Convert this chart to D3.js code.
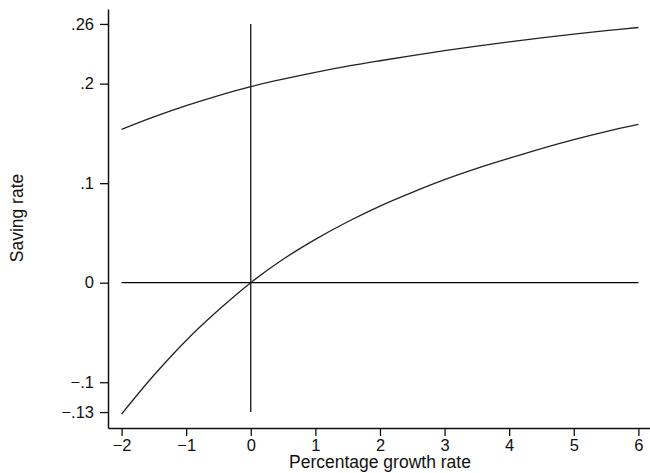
<!DOCTYPE html>
<html>
<head>
<meta charset="utf-8">
<script src="https://cdn.jsdelivr.net/npm/d3@7"></script>
<style>
  html, body { margin: 0; padding: 0; background: #fff; }
  svg { display: block; }
  text { font-family: "Liberation Sans", Arial, sans-serif; fill: #111; }
</style>
</head>
<body>
<svg id="chart" width="650" height="473"></svg>
<script>
// Data
const growth = [-2, -1.5, -1, -0.5, 0, 0.5, 1, 1.5, 2, 2.5, 3, 3.5, 4, 4.5, 5, 5.5, 6];
const upperSaving = [0.154, 0.1665, 0.1778, 0.188, 0.197, 0.2045, 0.2113, 0.2175, 0.223, 0.2282, 0.2331, 0.2377, 0.242, 0.246, 0.2497, 0.2532, 0.2564];
const lowerSaving = [-0.132, -0.093, -0.058, -0.0275, 0, 0.0235, 0.0435, 0.0612, 0.077, 0.0908, 0.1035, 0.1148, 0.125, 0.1348, 0.1438, 0.1518, 0.159];
const xTicks = [-2, -1, 0, 1, 2, 3, 4, 5, 6];
const xTickLabels = ["\u22122", "\u22121", "0", "1", "2", "3", "4", "5", "6"];
const yTicks = [-0.13, -0.1, 0, 0.1, 0.2, 0.26];
const yTickLabels = ["\u2212.13", "\u2212.1", "0", ".1", ".2", ".26"];
const refX = 0;          // vertical reference line at zero growth
const refY = 0;          // horizontal reference line at zero saving
const refYRange = [-0.13, 0.26];
const xLabel = "Percentage growth rate";
const yLabel = "Saving rate";

const svg = d3.select("#chart");
const x = d3.scaleLinear().domain([-2.21, 6.18]).range([108, 650]);
const y = d3.scaleLinear().domain([-0.146, 0.275]).range([428, 9]);

// Reference lines
svg.append("line")
  .attr("x1", x(refX)).attr("x2", x(refX))
  .attr("y1", y(refYRange[0])).attr("y2", y(refYRange[1]))
  .attr("stroke", "#000").attr("stroke-width", 1.2);
svg.append("line")
  .attr("x1", x(growth[0])).attr("x2", x(growth[growth.length - 1]))
  .attr("y1", y(refY)).attr("y2", y(refY))
  .attr("stroke", "#000").attr("stroke-width", 1.2);

// Curves
const line = d3.line().x((d, i) => x(growth[i])).y(d => y(d)).curve(d3.curveCatmullRom);
[upperSaving, lowerSaving].forEach(s => {
  svg.append("path").datum(s).attr("d", line)
    .attr("fill", "none").attr("stroke", "#222").attr("stroke-width", 1.3);
});

// Axes
const xAxis = d3.axisBottom(x).tickValues(xTicks)
  .tickFormat((d, i) => xTickLabels[i]).tickSize(8).tickSizeOuter(0).tickPadding(3);
const gx = svg.append("g").attr("transform", `translate(0,${y.range()[0]})`).call(xAxis);
const yAxis = d3.axisLeft(y).tickValues(yTicks)
  .tickFormat((d, i) => yTickLabels[i]).tickSize(8).tickSizeOuter(0).tickPadding(6);
const gy = svg.append("g").attr("transform", `translate(${x.range()[0]},0)`).call(yAxis);

[gx, gy].forEach(g => {
  g.select(".domain").attr("stroke", "#111").attr("stroke-width", 1.5);
  g.selectAll(".tick line").attr("stroke", "#111").attr("stroke-width", 1.3);
  g.selectAll(".tick text").attr("font-size", 16.5).attr("fill", "#111")
    .attr("font-family", "Liberation Sans, Arial, sans-serif");
});

// Axis titles
svg.append("text")
  .attr("x", (x(growth[0]) + x(growth[growth.length - 1])) / 2)
  .attr("y", 468)
  .attr("text-anchor", "middle")
  .attr("font-size", 17.5)
  .text(xLabel);
svg.append("text")
  .attr("transform", `translate(23,${(y(refYRange[0]) + y(refYRange[1])) / 2}) rotate(-90)`)
  .attr("text-anchor", "middle")
  .attr("font-size", 17.5)
  .text(yLabel);
</script>
</body>
</html>
